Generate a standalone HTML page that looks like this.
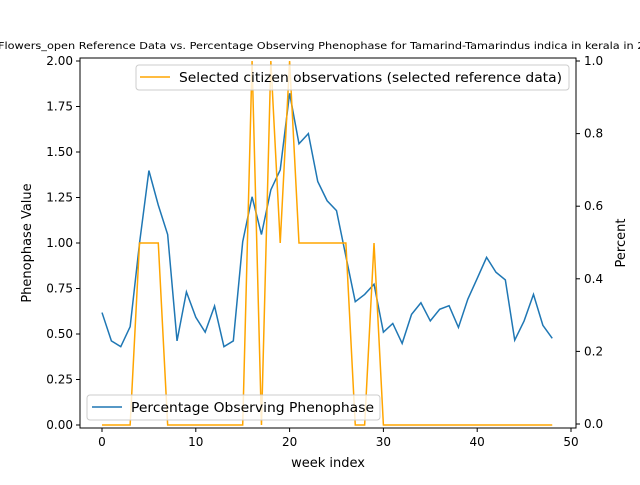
<!DOCTYPE html>
<html><head><meta charset="utf-8"><style>
body{margin:0;background:#fff;}
svg{font-family:"DejaVu Sans","Liberation Sans",sans-serif;}
</style></head><body>
<svg id="chart" width="640" height="480" viewBox="0 0 640 480" xmlns="http://www.w3.org/2000/svg">
<rect width="640" height="480" fill="#fff"/>
<text x="-2" y="49" font-size="10" textLength="668" lengthAdjust="spacingAndGlyphs">Flowers_open Reference Data vs. Percentage Observing Phenophase for Tamarind-Tamarindus indica in kerala in 2023</text>
<g id="marks"></g>
<rect x="80" y="58" width="496" height="370" fill="none" stroke="#000" stroke-width="1"/>
<g id="axes"></g>
<text x="328" y="467" font-size="13" text-anchor="middle">week index</text>
<text transform="translate(31,243) rotate(-90)" font-size="13" text-anchor="middle">Phenophase Value</text>
<text transform="translate(625,243) rotate(-90)" font-size="13" text-anchor="middle">Percent</text>
<g>
<rect x="136" y="65" width="433" height="25" rx="3" fill="#fff" fill-opacity="0.8" stroke="#ccc"/>
<line x1="140" y1="77" x2="170" y2="77" stroke="orange" stroke-width="1.5"/>
<text x="179" y="82" font-size="13" textLength="383" lengthAdjust="spacingAndGlyphs">Selected citizen observations (selected reference data)</text>
</g>
<g>
<rect x="87" y="395" width="293" height="25" rx="3" fill="#fff" fill-opacity="0.8" stroke="#ccc"/>
<line x1="92" y1="407" x2="122" y2="407" stroke="#1f77b4" stroke-width="1.5"/>
<text x="131" y="412" font-size="13" textLength="243" lengthAdjust="spacingAndGlyphs">Percentage Observing Phenophase</text>
</g>
</svg>
<script>
const weeks=[0,1,2,3,4,5,6,7,8,9,10,11,12,13,14,15,16,17,18,19,20,21,22,23,24,25,26,27,28,29,30,31,32,33,34,35,36,37,38,39,40,41,42,43,44,45,46,47,48];
const refValues=[0,0,0,0,1,1,1,0,0,0,0,0,0,0,0,0,2,0,2,1,2,1,1,1,1,1,1,0,0,1,0,0,0,0,0,0,0,0,0,0,0,0,0,0,0,0,0,0,0];
const percentValues=[0.307,0.229,0.213,0.268,0.498,0.698,0.603,0.522,0.229,0.364,0.294,0.253,0.325,0.213,0.229,0.502,0.626,0.522,0.645,0.700,0.911,0.772,0.800,0.668,0.615,0.588,0.462,0.337,0.357,0.385,0.253,0.277,0.222,0.302,0.334,0.284,0.316,0.326,0.266,0.344,0.401,0.459,0.418,0.397,0.231,0.284,0.357,0.272,0.236];
const xTicks=[0,10,20,30,40,50];
const leftTicks=[0,0.25,0.5,0.75,1.0,1.25,1.5,1.75,2.0];
const rightTicks=[0,0.2,0.4,0.6,0.8,1.0];
const NS="http://www.w3.org/2000/svg";
const x=v=>102+v*9.38;
const yL=v=>425-v*182;
const yR=v=>424-v*363;
const marks=document.getElementById('marks'), axes=document.getElementById('axes');
function mk(tag,attrs,parent){const e=document.createElementNS(NS,tag);for(const k in attrs)e.setAttribute(k,attrs[k]);parent.appendChild(e);return e;}
const pb=mk('polyline',{points:weeks.map((w,i)=>x(w)+','+yR(percentValues[i])).join(' '),fill:'none',stroke:'#1f77b4','stroke-width':1.5},marks);


const po=mk('polyline',{points:weeks.map((w,i)=>x(w)+','+yL(refValues[i])).join(' '),fill:'none',stroke:'orange','stroke-width':1.5},marks);


xTicks.forEach(t=>{const g=mk('g',{},axes);


mk('line',{x1:x(t),x2:x(t),y1:428,y2:432,stroke:'#000'},g);
const tx=mk('text',{x:x(t),y:446,'font-size':12,'text-anchor':'middle'},g);tx.textContent=t;});
leftTicks.forEach(t=>{const g=mk('g',{},axes);


mk('line',{x1:76,x2:80,y1:yL(t),y2:yL(t),stroke:'#000'},g);
const tx=mk('text',{x:73,y:yL(t)+4,'font-size':12,'text-anchor':'end'},g);tx.textContent=t.toFixed(2);});
rightTicks.forEach(t=>{const g=mk('g',{},axes);


mk('line',{x1:576,x2:580,y1:yR(t),y2:yR(t),stroke:'#000'},g);
const tx=mk('text',{x:584,y:yR(t)+4,'font-size':12},g);tx.textContent=t.toFixed(1);});
</script>
</body></html>
